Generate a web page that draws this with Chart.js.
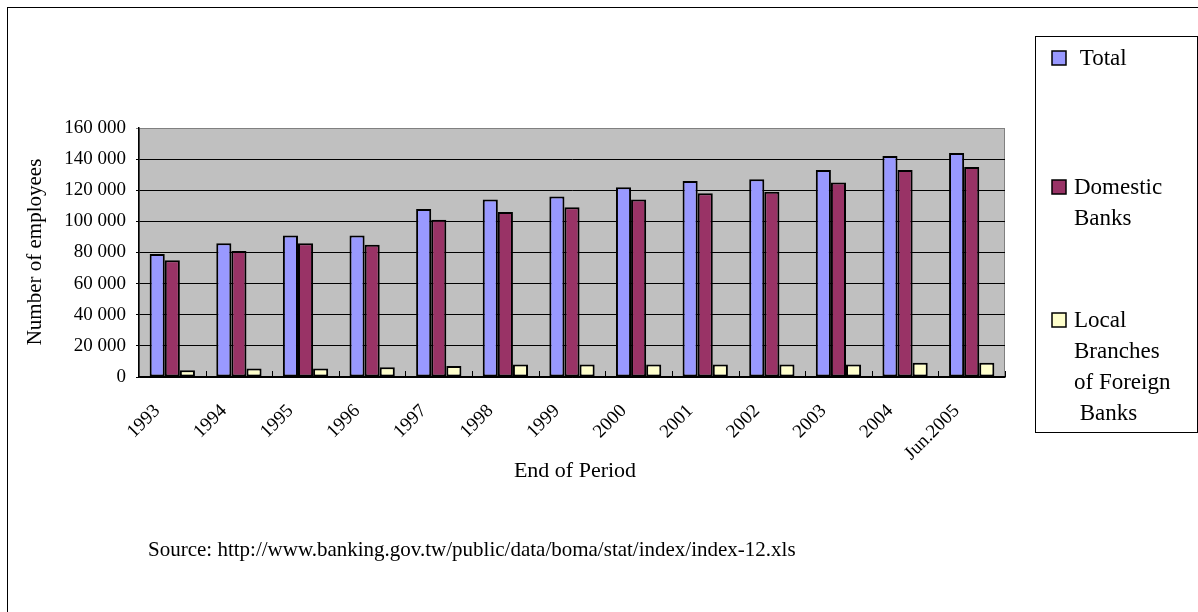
<!DOCTYPE html>
<html>
<head>
<meta charset="utf-8">
<script src="https://cdn.jsdelivr.net/npm/chart.js@4/dist/chart.umd.min.js"></script>
<style>
  html, body { margin: 0; padding: 0; background: #fff; }
  #wrap { width: 1198px; height: 612px; position: relative; }
</style>
</head>
<body>
<div id="wrap"><canvas id="staffChart" width="1198" height="612"></canvas></div>
<script>
// Bank employees by end of period
const periods = ['1993', '1994', '1995', '1996', '1997', '1998', '1999', '2000', '2001', '2002', '2003', '2004', 'Jun.2005'];
const totalStaff    = [79000, 86000, 91000, 91000, 108000, 114000, 116000, 122000, 126000, 127000, 133000, 142000, 144000];
const domesticStaff = [75000, 81000, 86000, 85000, 101000, 106000, 109000, 114000, 118000, 119000, 125000, 133000, 135000];
const foreignStaff  = [4300, 5400, 5400, 6200, 7100, 8100, 8100, 8100, 8100, 8100, 8100, 9200, 9200];

const seriesNames = ['Total', 'Domestic Banks', 'Local Branches of Foreign Banks'];
const legendLines = [[' Total'], ['Domestic', 'Banks'], ['Local', 'Branches', 'of Foreign', ' Banks']];
const yMax = 160000;
const yStep = 20000;

const serif = '"Liberation Serif", "DejaVu Serif", serif';

function formatThousands(v) {
    return String(v).replace(/\B(?=(\d{3})+(?!\d))/g, ' ');
}

// Gray plot background with a thin frame
const plotBackground = {
    id: 'plotBackground',
    beforeDraw(chart) {
        const { ctx, chartArea: a } = chart;
        ctx.save();
        ctx.fillStyle = '#C0C0C0';
        ctx.fillRect(a.left, a.top, a.right - a.left, a.bottom - a.top);
        ctx.strokeStyle = '#808080';
        ctx.lineWidth = 1;
        ctx.strokeRect(a.left + 0.5, a.top + 0.5, a.right - a.left - 1, a.bottom - a.top);
        ctx.restore();
    }
};

// Titles, inside tick marks, legend box, source note and page frame
const decorations = {
    id: 'decorations',
    afterDraw(chart) {
        const { ctx, chartArea: a } = chart;
        const x = chart.scales.x;
        const step = (x.getPixelForValue(1) - x.getPixelForValue(0));
        ctx.save();

        // short tick marks at category boundaries, pointing into the plot
        ctx.strokeStyle = '#000';
        ctx.lineWidth = 1;
        ctx.beginPath();
        for (let i = 1; i <= periods.length; i++) {
            const px = Math.round(x.getPixelForValue(i) - step / 2) + 0.5;
            ctx.moveTo(px, a.bottom);
            ctx.lineTo(px, a.bottom - 6);
        }
        ctx.stroke();

        ctx.fillStyle = '#000';
        ctx.textBaseline = 'middle';

        // axis titles
        ctx.font = '22px ' + serif;
        ctx.textAlign = 'center';
        ctx.fillText('End of Period', 575, 471);
        ctx.save();
        ctx.translate(35, 252);
        ctx.rotate(-Math.PI / 2);
        ctx.font = '21px ' + serif;
        ctx.fillText('Number of employees', 0, 0);
        ctx.restore();

        // source note
        ctx.textAlign = 'left';
        ctx.font = '21px ' + serif;
        ctx.fillText('Source: http://www.banking.gov.tw/public/data/boma/stat/index/index-12.xls', 148, 550);

        // legend
        ctx.strokeStyle = '#000';
        ctx.lineWidth = 1;
        ctx.strokeRect(1035.5, 36.5, 162, 396);
        const itemTops = [59, 188, 321];
        ctx.font = '23px ' + serif;
        chart.data.datasets.forEach((ds, i) => {
            const y0 = itemTops[i];
            ctx.fillStyle = ds.backgroundColor;
            ctx.fillRect(1052, y0 - 8, 14, 14);
            ctx.strokeStyle = '#000';
            ctx.lineWidth = 1.5;
            ctx.strokeRect(1052, y0 - 8, 14, 14);
            ctx.fillStyle = '#000';
            legendLines[i].forEach((line, j) => {
                ctx.fillText(line, 1074, y0 + j * 31);
            });
        });

        // page frame
        ctx.lineWidth = 1;
        ctx.strokeRect(7.5, 7.5, 1200, 620);
        ctx.restore();
    }
};

const barStyle = {
    borderColor: '#000',
    borderWidth: 2,
    borderSkipped: false,
    barPercentage: 1.0,
    categoryPercentage: 0.68
};

new Chart(document.getElementById('staffChart'), {
    type: 'bar',
    data: {
        labels: periods,
        datasets: [
            Object.assign({ label: seriesNames[0], data: totalStaff, backgroundColor: '#9999FF' }, barStyle),
            Object.assign({ label: seriesNames[1], data: domesticStaff, backgroundColor: '#993366' }, barStyle),
            Object.assign({ label: seriesNames[2], data: foreignStaff, backgroundColor: '#FFFFCC' }, barStyle)
        ]
    },
    options: {
        responsive: false,
        animation: false,
        layout: { padding: { top: 128, right: 193, left: 0, bottom: 0 } },
        plugins: {
            legend: { display: false },
            tooltip: { enabled: false }
        },
        scales: {
            x: {
                offset: true,
                grid: { display: false },
                border: { display: true, color: '#000', width: 1.5 },
                ticks: {
                    color: '#000',
                    font: { family: serif, size: 19 },
                    minRotation: 45,
                    maxRotation: 45,
                    padding: 15,
                    labelOffset: -15
                },
                afterFit(scale) { scale.height = 235; }
            },
            y: {
                min: 0,
                max: yMax,
                ticks: {
                    stepSize: yStep,
                    color: '#000',
                    font: { family: serif, size: 19 },
                    padding: 10,
                    callback: v => formatThousands(v)
                },
                grid: {
                    color: ctx => (ctx.tick && ctx.tick.value === yMax) ? '#808080' : '#000',
                    lineWidth: 1,
                    tickLength: 3
                },
                border: { display: true, color: '#000', width: 1.5 },
                afterFit(scale) { scale.width = 139; }
            }
        }
    },
    plugins: [plotBackground, decorations]
});
</script>
</body>
</html>
